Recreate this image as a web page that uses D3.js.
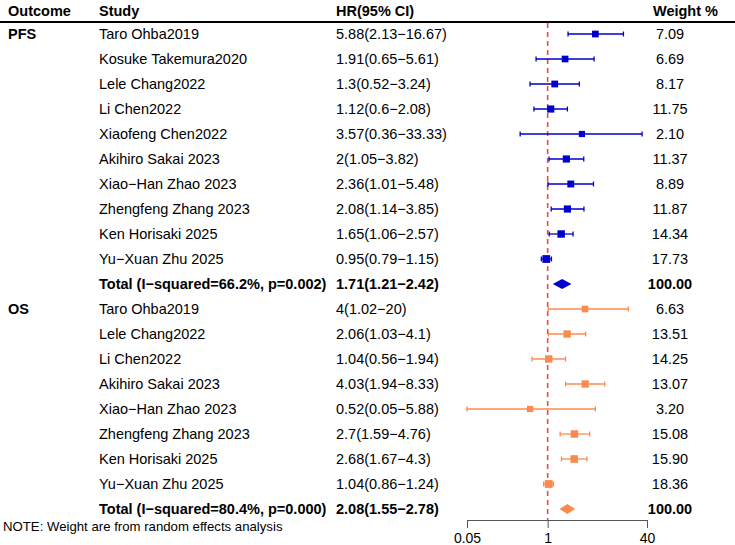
<!DOCTYPE html>
<html>
<head>
<meta charset="utf-8">
<script src="https://cdn.jsdelivr.net/npm/d3@7"></script>
<style>
  body { margin: 0; background: #fff; }
  svg { display: block; }
  text { font-family: "Liberation Sans", Arial, sans-serif; }
</style>
</head>
<body>
<svg id="chart" width="735" height="545"></svg>
<script>
// ---------------- data ----------------
const pfsStudies = ["Taro Ohba2019","Kosuke Takemura2020","Lele Chang2022","Li Chen2022","Xiaofeng Chen2022","Akihiro Sakai 2023","Xiao\u2212Han Zhao 2023","Zhengfeng Zhang 2023","Ken Horisaki 2025","Yu\u2212Xuan Zhu 2025"];
const pfsHR    = [5.88, 1.91, 1.3, 1.12, 3.57, 2, 2.36, 2.08, 1.65, 0.95];
const pfsLo    = [2.13, 0.65, 0.52, 0.6, 0.36, 1.05, 1.01, 1.14, 1.06, 0.79];
const pfsHi    = [16.67, 5.61, 3.24, 2.08, 33.33, 3.82, 5.48, 3.85, 2.57, 1.15];
const pfsWeight = ["7.09","6.69","8.17","11.75","2.10","11.37","8.89","11.87","14.34","17.73"];
const pfsTotal = {label: "Total (I\u2212squared=66.2%, p=0.002)", hr: 1.71, lo: 1.21, hi: 2.42, weight: "100.00"};

const osStudies = ["Taro Ohba2019","Lele Chang2022","Li Chen2022","Akihiro Sakai 2023","Xiao\u2212Han Zhao 2023","Zhengfeng Zhang 2023","Ken Horisaki 2025","Yu\u2212Xuan Zhu 2025"];
const osHR     = [4, 2.06, 1.04, 4.03, 0.52, 2.7, 2.68, 1.04];
const osLo     = [1.02, 1.03, 0.56, 1.94, 0.05, 1.59, 1.67, 0.86];
const osHi     = [20, 4.1, 1.94, 8.33, 5.88, 4.76, 4.3, 1.24];
const osWeight = ["6.63","13.51","14.25","13.07","3.20","15.08","15.90","18.36"];
const osTotal  = {label: "Total (I\u2212squared=80.4%, p=0.000)", hr: 2.08, lo: 1.55, hi: 2.78, weight: "100.00"};

const tickValues = [0.05, 1, 40];
const tickLabels = ["0.05", "1", "40"];
const headers = ["Outcome", "Study", "HR(95% CI)", "Weight %"];

const colors = {PFS: "#0000CD", OS: "#FA8B4F"};

// ---------------- build rows ----------------
function fmtCI(h, l, u) { return `${h}(${l}\u2212${u})`; }
const rows = [];
function addGroup(name, studies, hr, lo, hi, w, total) {
  studies.forEach((s, i) => rows.push({group: name, outcome: i === 0 ? name : "", study: s, hr: hr[i], lo: lo[i], hi: hi[i], weight: w[i], total: false}));
  rows.push({group: name, outcome: "", study: total.label, hr: total.hr, lo: total.lo, hi: total.hi, weight: total.weight, total: true});
}
addGroup("PFS", pfsStudies, pfsHR, pfsLo, pfsHi, pfsWeight, pfsTotal);
addGroup("OS", osStudies, osHR, osLo, osHi, osWeight, osTotal);

// ---------------- layout ----------------
const svg = d3.select("#chart");
const y = d3.scalePoint().domain(d3.range(rows.length)).range([34, 509]);
const x = d3.scaleLog().domain([0.05, 40]).range([467, 647]);
const colX = {outcome: 8, study: 99, hr: 336, weightHeader: 653, weight: 670};
const fs = 14.5;

// header
const hdr = svg.append("g").attr("font-weight", "bold").attr("font-size", 14.5).attr("fill", "#000");
hdr.append("text").attr("x", colX.outcome).attr("y", 16).text(headers[0]);
hdr.append("text").attr("x", colX.study).attr("y", 16).text(headers[1]);
hdr.append("text").attr("x", colX.hr).attr("y", 16).text(headers[2]);
hdr.append("text").attr("x", colX.weightHeader).attr("y", 16).text(headers[3]);
svg.append("line").attr("x1", 0).attr("x2", 735).attr("y1", 22).attr("y2", 22)
   .attr("stroke", "#000").attr("stroke-width", 2);

// reference line
svg.append("line").attr("x1", x(1)).attr("x2", x(1)).attr("y1", 23).attr("y2", 520)
   .attr("stroke", "#F24848").attr("stroke-width", 1.6).attr("stroke-dasharray", "5,4");

// text columns
const tg = svg.append("g").attr("font-size", fs).attr("fill", "#000");
rows.forEach((r, i) => {
  const yy = y(i) + 5;
  if (r.outcome) tg.append("text").attr("x", colX.outcome).attr("y", yy).attr("font-weight", "bold").text(r.outcome);
  const w = r.total ? "bold" : null;
  tg.append("text").attr("x", colX.study).attr("y", yy).attr("font-weight", w).text(r.study);
  tg.append("text").attr("x", colX.hr).attr("y", yy).attr("font-weight", w).text(fmtCI(r.hr, r.lo, r.hi));
  tg.append("text").attr("x", colX.weight).attr("y", yy).attr("text-anchor", "middle").attr("font-weight", w).text(r.weight);
});

// marks
const mg = svg.append("g");
rows.forEach((r, i) => {
  const c = colors[r.group];
  const cy = y(i);
  if (r.total) {
    const xl = x(r.lo), xr = x(r.hi), xm = x(r.hr);
    mg.append("path").attr("d", `M${xl},${cy} L${xm},${cy - 5} L${xr},${cy} L${xm},${cy + 5} Z`).attr("fill", c);
  } else {
    mg.append("line").attr("x1", x(r.lo)).attr("x2", x(r.hi)).attr("y1", cy).attr("y2", cy)
      .attr("stroke", c).attr("stroke-width", 1.3);
    [r.lo, r.hi].forEach(v => mg.append("line").attr("x1", x(v)).attr("x2", x(v)).attr("y1", cy - 2.5).attr("y2", cy + 2.5)
      .attr("stroke", c).attr("stroke-width", 1.3));
    const s = 6 + (+r.weight) * 0.1;
    mg.append("rect").attr("x", x(r.hr) - s / 2).attr("y", cy - s / 2).attr("width", s).attr("height", s).attr("fill", c);
  }
});

// axis
const axis = d3.axisBottom(x).tickValues(tickValues).tickFormat((d, i) => tickLabels[i]).tickSize(8).tickSizeOuter(0);
const ag = svg.append("g").attr("transform", "translate(0,520)").call(axis);
ag.select(".domain").attr("stroke", "#555");
ag.selectAll(".tick line").attr("stroke", "#555");
ag.selectAll(".tick text").attr("font-size", 14).attr("fill", "#000").attr("font-family", "Liberation Sans, Arial, sans-serif").attr("dy", "0.85em");

// note
svg.append("text").attr("x", 3).attr("y", 531).attr("font-size", 13.2).attr("fill", "#000").text("NOTE: Weight are from random effects analysis");
</script>
</body>
</html>
